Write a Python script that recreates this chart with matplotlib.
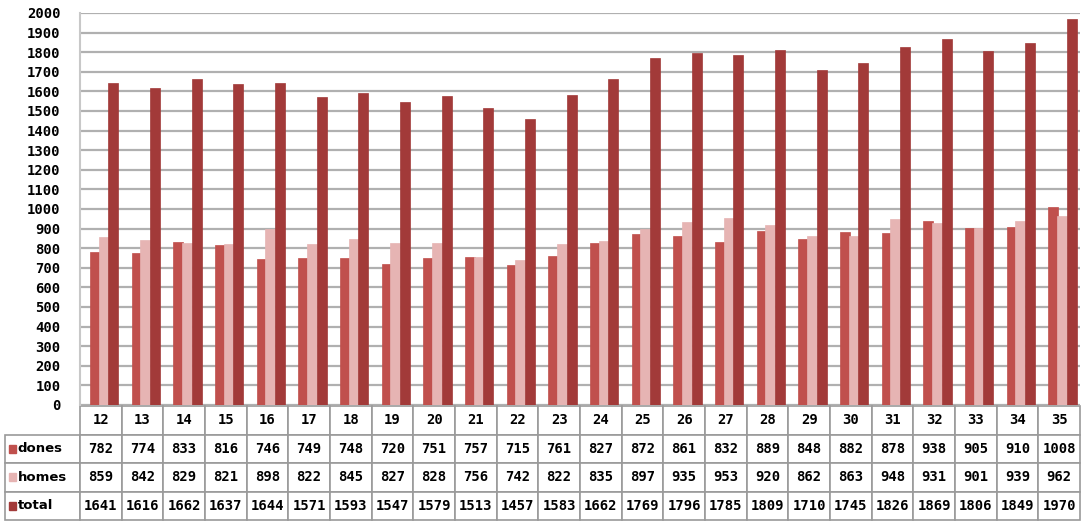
import matplotlib.pyplot as plt
import numpy as np

# dades llegides de la taula
edats = ['12', '13', '14', '15', '16', '17', '18', '19', '20', '21', '22', '23',
         '24', '25', '26', '27', '28', '29', '30', '31', '32', '33', '34', '35']
dones = [782, 774, 833, 816, 746, 749, 748, 720, 751, 757, 715, 761,
         827, 872, 861, 832, 889, 848, 882, 878, 938, 905, 910, 1008]
homes = [859, 842, 829, 821, 898, 822, 845, 827, 828, 756, 742, 822,
         835, 897, 935, 953, 920, 862, 863, 948, 931, 901, 939, 962]
total = [1641, 1616, 1662, 1637, 1644, 1571, 1593, 1547, 1579, 1513, 1457, 1583,
         1662, 1769, 1796, 1785, 1809, 1710, 1745, 1826, 1869, 1806, 1849, 1970]
series = ['dones', 'homes', 'total']
colors = ['#C0504D', '#E6B4B3', '#A23A39']

W, H = 1086, 525
fig = plt.figure(figsize=(W / 100, H / 100), dpi=100)
ax = fig.add_axes([80 / W, 1 - 405 / H, 1000 / W, 392 / H])

x = np.arange(len(edats))
offs = [-0.14, 0.07, 0.30]
for vals, c, o, lab in zip([dones, homes, total], colors, offs, series):
    ax.bar(x + o, vals, width=0.24, color=c, edgecolor=c, linewidth=0.5, label=lab, zorder=3)

ax.set_xlim(-0.5, len(edats) - 0.5)
ax.set_ylim(0, 2000)
ax.set_yticks(np.arange(0, 2001, 100))
ax.set_yticklabels([str(v) for v in range(0, 2001, 100)], fontsize=10, fontweight='bold',
                   family='DejaVu Sans Mono')
ax.set_xticks([])
ax.grid(axis='y', color='#B0B0B0', linewidth=1.6, zorder=0)
ax.tick_params(axis='y', length=0, pad=14)
for s in ['top', 'right', 'bottom']:
    ax.spines[s].set_visible(False)
ax.spines['left'].set_color('#C8C8C8')
ax.spines['left'].set_linewidth(1.5)

# taula de dades a sota
tax = fig.add_axes([5 / W, 1 - 520 / H, 1075 / W, 114 / H])
tax.axis('off')
tax.set_zorder(0)
ax.set_zorder(1)
ax.patch.set_alpha(0)
cell_text = [[''] + edats]
for name, vals in zip(series, [dones, homes, total]):
    cell_text.append([name] + [str(v) for v in vals])
col_w = [75 / 1075] + [1000 / 1075 / len(edats)] * len(edats)
tab = tax.table(cellText=cell_text, colWidths=col_w, bbox=[0, 0, 1, 1], cellLoc='center')
tab.auto_set_font_size(False)
for (r, c), cell in tab.get_celld().items():
    cell.set_edgecolor('#9A9A9A')
    cell.set_linewidth(1.2)
    t = cell.get_text()
    t.set_fontsize(10)
    t.set_fontweight('bold')
    t.set_family('DejaVu Sans Mono')
    if r == 0 and c == 0:
        cell.set_visible(False)
    if c == 0 and r > 0:
        t.set_family('DejaVu Sans')
        t.set_fontsize(9.5)
        t.set_ha('left')
        cell._loc = 'left'
        cell.PAD = 0.17

# marcadors de la llegenda dins la taula
for i, c in enumerate(colors):
    yc = 1 - (i + 1.5) / 4
    tax.add_patch(plt.Rectangle((0.004, yc - 0.035), 0.006, 0.07, color=c,
                                transform=tax.transAxes, zorder=5))

fig.savefig('out.png', dpi=100)
